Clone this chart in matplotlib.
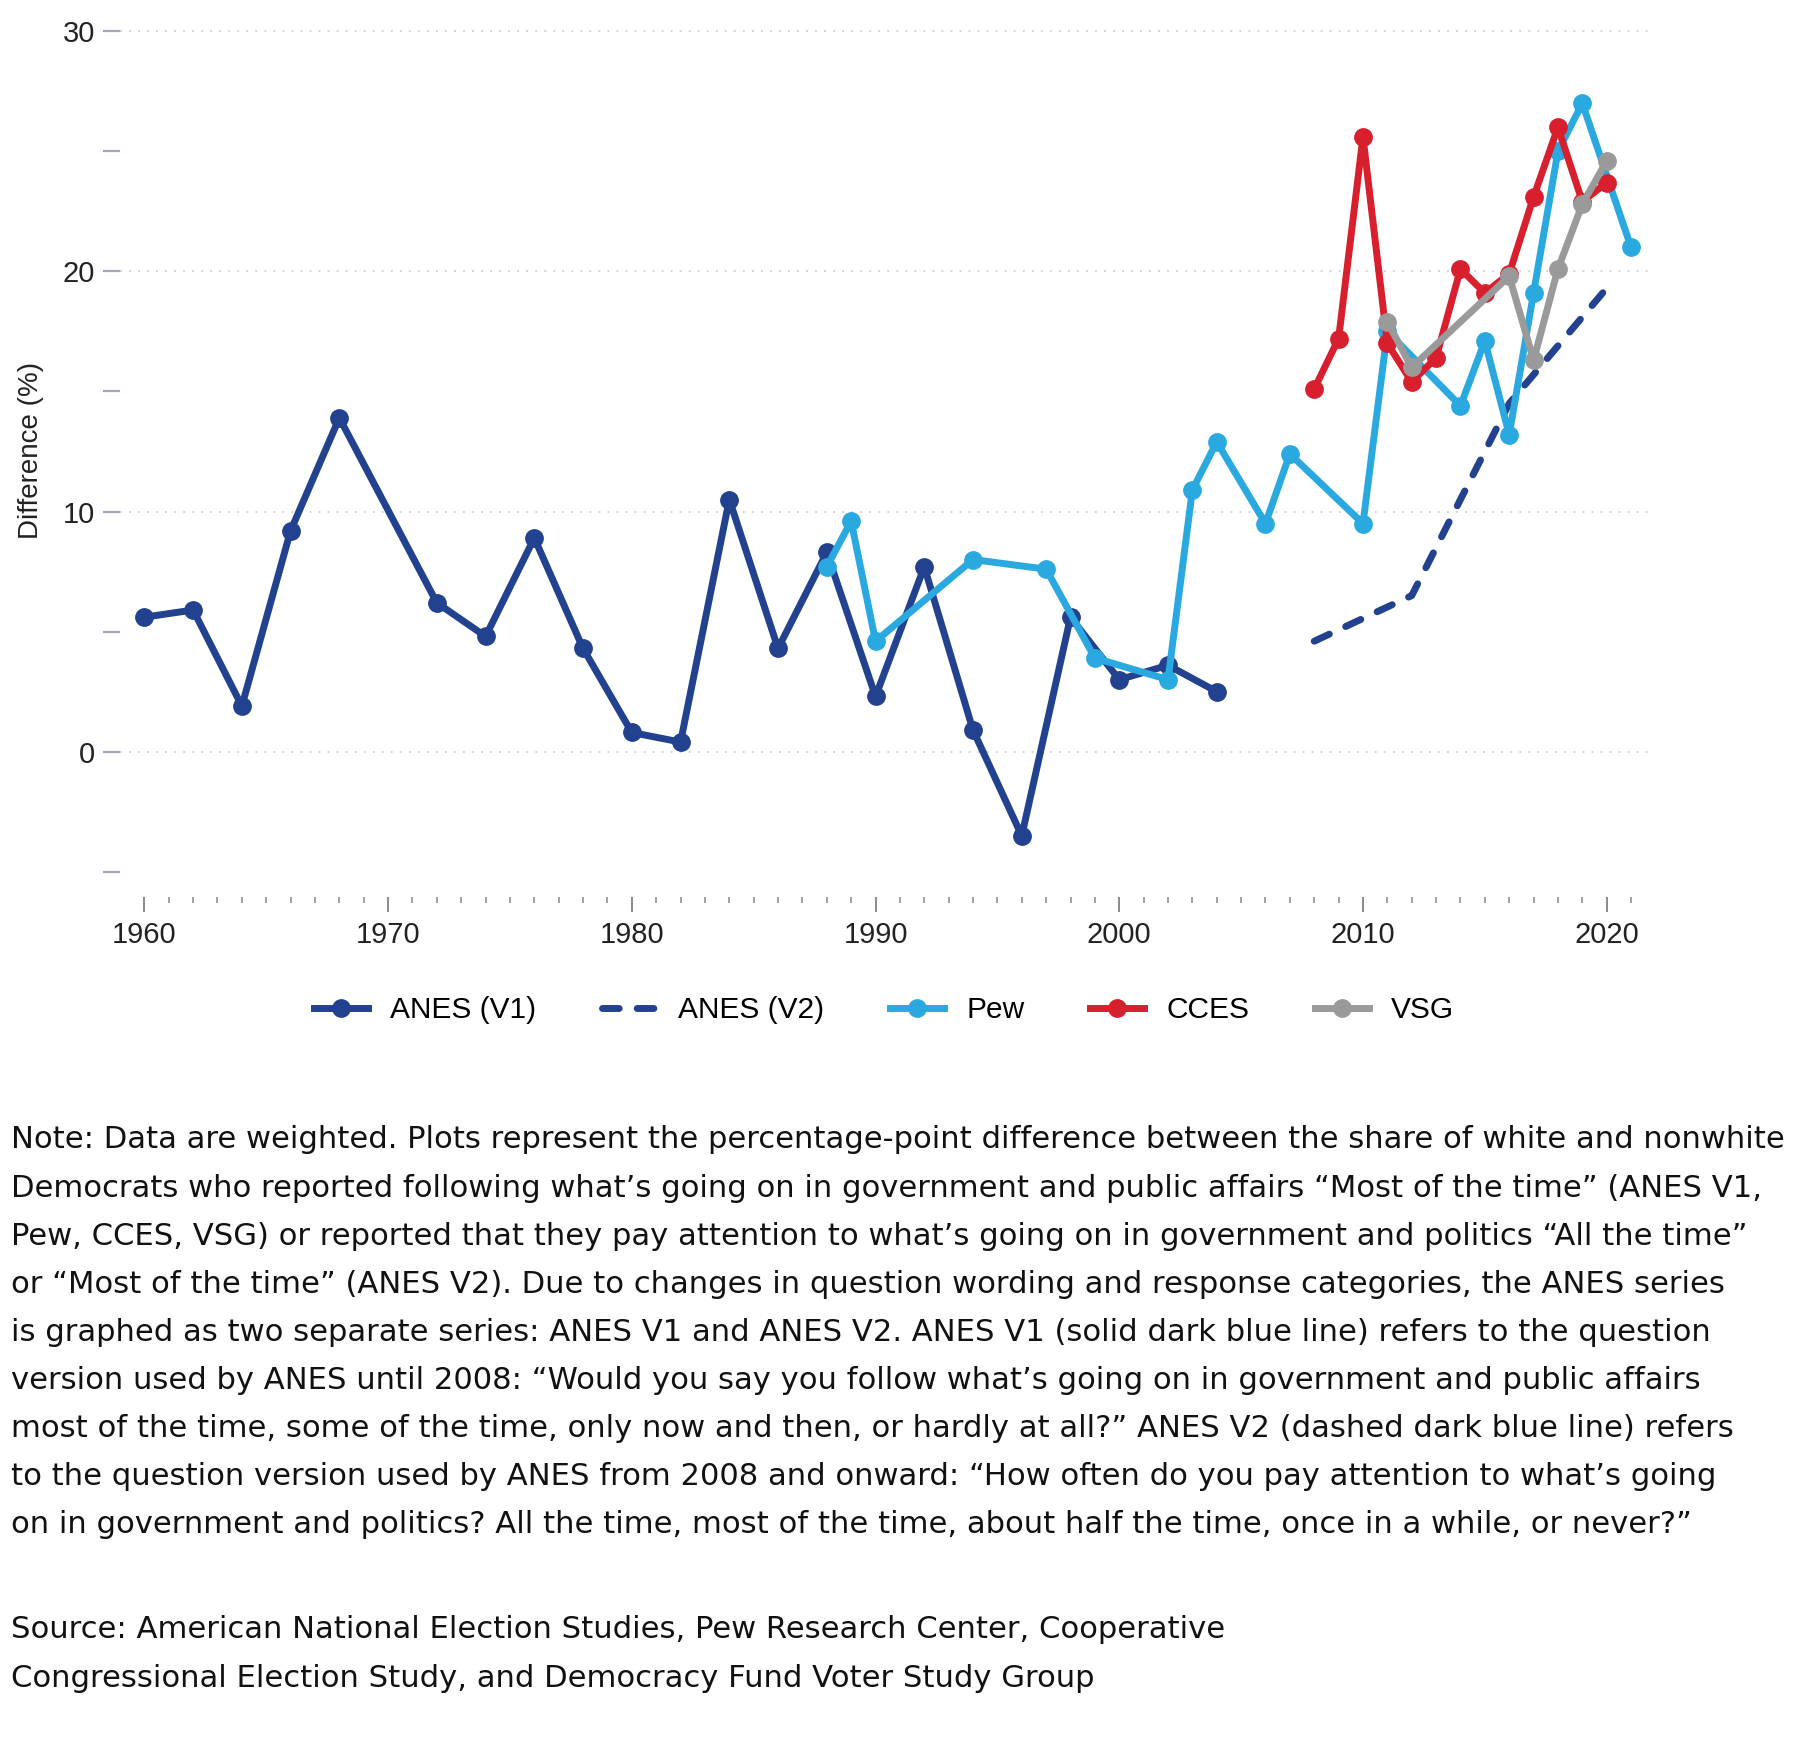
import numpy as np
import matplotlib
matplotlib.use("Agg")
import matplotlib.pyplot as plt
from matplotlib.ticker import MultipleLocator, FixedLocator

plt.rcParams['font.family'] = ['Liberation Sans', 'DejaVu Sans']

# series
anes_v1_years = [1960, 1962, 1964, 1966, 1968, 1972, 1974, 1976, 1978, 1980, 1982,
                 1984, 1986, 1988, 1990, 1992, 1994, 1996, 1998, 2000, 2002, 2004]
anes_v1_vals = [5.6, 5.9, 1.9, 9.2, 13.9, 6.2, 4.8, 8.9, 4.3, 0.8, 0.4,
                10.5, 4.3, 8.3, 2.3, 7.7, 0.9, -3.5, 5.6, 3.0, 3.6, 2.5]

anes_v2_years = [2008, 2012, 2016, 2020]
anes_v2_vals = [4.6, 6.5, 14.5, 19.3]

pew_years = [1988, 1989, 1990, 1994, 1997, 1999, 2002, 2003, 2004, 2006, 2007,
             2010, 2011, 2014, 2015, 2016, 2017, 2018, 2019, 2021]
pew_vals = [7.7, 9.6, 4.6, 8.0, 7.6, 3.9, 3.0, 10.9, 12.9, 9.5, 12.4,
            9.5, 17.5, 14.4, 17.1, 13.2, 19.1, 25.0, 27.0, 21.0]

cces_years = [2008, 2009, 2010, 2011, 2012, 2013, 2014, 2015, 2016, 2017, 2018, 2019, 2020]
cces_vals = [15.1, 17.2, 25.6, 17.0, 15.4, 16.4, 20.1, 19.1, 19.9, 23.1, 26.0, 22.9, 23.7]

vsg_years = [2011, 2012, 2016, 2017, 2018, 2019, 2020]
vsg_vals = [17.9, 16.0, 19.8, 16.3, 20.1, 22.8, 24.6]

dark_blue = '#22418f'
light_blue = '#2aa9e0'
red = '#d81f2e'
gray = '#9a9a9a'

note_lines = [
    "Note: Data are weighted. Plots represent the percentage-point difference between the share of white and nonwhite",
    "Democrats who reported following what\u2019s going on in government and public affairs \u201cMost of the time\u201d (ANES V1,",
    "Pew, CCES, VSG) or reported that they pay attention to what\u2019s going on in government and politics \u201cAll the time\u201d",
    "or \u201cMost of the time\u201d (ANES V2). Due to changes in question wording and response categories, the ANES series",
    "is graphed as two separate series: ANES V1 and ANES V2. ANES V1 (solid dark blue line) refers to the question",
    "version used by ANES until 2008: \u201cWould you say you follow what\u2019s going on in government and public affairs",
    "most of the time, some of the time, only now and then, or hardly at all?\u201d ANES V2 (dashed dark blue line) refers",
    "to the question version used by ANES from 2008 and onward: \u201cHow often do you pay attention to what\u2019s going",
    "on in government and politics? All the time, most of the time, about half the time, once in a while, or never?\u201d",
]
source_lines = [
    "Source: American National Election Studies, Pew Research Center, Cooperative",
    "Congressional Election Study, and Democracy Fund Voter Study Group",
]

W, H = 1800, 1750
fig = plt.figure(figsize=(W / 100, H / 100), dpi=100)
ax = fig.add_axes([120 / W, 1 - 897 / H, (1653 - 120) / W, (897 - 12) / H])

lw = 5
ms = 12.5
ax.plot(anes_v1_years, anes_v1_vals, color=dark_blue, lw=lw, marker='o', ms=ms,
        label='ANES (V1)', solid_joinstyle='round')
ax.plot(anes_v2_years, anes_v2_vals, color=dark_blue, lw=lw, dashes=(2.4, 2.6),
        dash_capstyle='round', label='ANES (V2)')
ax.plot(pew_years, pew_vals, color=light_blue, lw=lw, marker='o', ms=ms,
        label='Pew', solid_joinstyle='round')
ax.plot(cces_years, cces_vals, color=red, lw=lw, marker='o', ms=ms,
        label='CCES', solid_joinstyle='round')
ax.plot(vsg_years, vsg_vals, color=gray, lw=lw, marker='o', ms=ms,
        label='VSG', solid_joinstyle='round')

ax.set_xlim(1959, 2021.9)
ax.set_ylim(-6.05, 30.8)

for s in ax.spines.values():
    s.set_visible(False)

ax.yaxis.set_major_locator(FixedLocator([0, 10, 20, 30]))
ax.yaxis.set_minor_locator(FixedLocator([-5, 5, 15, 25]))
ax.xaxis.set_major_locator(MultipleLocator(10))
ax.xaxis.set_minor_locator(FixedLocator(list(range(1960, 2022))))

ax.tick_params(axis='y', which='both', length=12, width=1.6, color='#a3a7bb',
               pad=6, labelsize=21, labelcolor='#222222')
ax.tick_params(axis='x', which='major', length=10.5, width=1.4, color='#8a8a8a',
               pad=7, labelsize=21, labelcolor='#222222')
ax.tick_params(axis='x', which='minor', length=4.5, width=1.4, color='#a0a0a0')

ax.grid(axis='y', which='major', color='#cfcfcf', linestyle=(0, (1, 4)), lw=1.3)
ax.set_axisbelow(True)

ax.set_ylabel('Difference (%)', fontsize=20, color='#222222')
ax.yaxis.set_label_coords(-(120 - 44) / (1653 - 120), (897 - 450) / (897 - 12))

leg = fig.legend(loc='center', bbox_to_anchor=(884 / W, 1 - 1010 / H), ncol=5,
                 frameon=False, fontsize=21.5, handlelength=1.8, handletextpad=0.75,
                 columnspacing=2.2)

note_font = ['DejaVu Sans']
for i, line in enumerate(note_lines):
    fig.text(11 / W, 1 - (1140 + i * 48.06) / H, line, fontsize=22.1, family=note_font,
             color='#111111', va='center', ha='left')
for i, line in enumerate(source_lines):
    fig.text(11 / W, 1 - (1630 + i * 48.06) / H, line, fontsize=22.1, family=note_font,
             color='#111111', va='center', ha='left')

fig.savefig('out.png', dpi=100, facecolor='white')
